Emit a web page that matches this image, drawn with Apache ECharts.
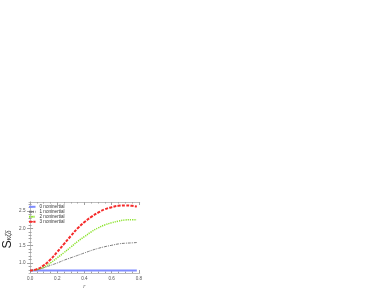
<!DOCTYPE html>
<html><head><meta charset="utf-8">
<script src="https://cdn.jsdelivr.net/npm/echarts@6/dist/echarts.min.js"></script>
<style>html,body{margin:0;padding:0;background:#fff}#c{width:382px;height:295px}</style>
</head><body><div id="c"></div>
<script>
var rValues = [0, 0.05, 0.1, 0.15, 0.2, 0.25, 0.3, 0.35, 0.4, 0.45, 0.5, 0.55, 0.6, 0.65, 0.7, 0.75, 0.785];
var s0 = [0.78, 0.78, 0.78, 0.78, 0.78, 0.78, 0.78, 0.78, 0.78, 0.78, 0.78, 0.78, 0.78, 0.78, 0.78, 0.78, 0.78];
var s1 = [0.78, 0.80, 0.86, 0.93, 1.00, 1.08, 1.15, 1.22, 1.29, 1.36, 1.42, 1.47, 1.51, 1.55, 1.57, 1.58, 1.59];
var s2 = [0.78, 0.81, 0.88, 1.00, 1.15, 1.30, 1.46, 1.62, 1.76, 1.90, 2.01, 2.10, 2.16, 2.21, 2.24, 2.25, 2.25];
var s3 = [0.78, 0.82, 0.93, 1.10, 1.32, 1.55, 1.78, 2.00, 2.18, 2.33, 2.45, 2.55, 2.61, 2.65, 2.66, 2.65, 2.63];
var seriesNames = ['0 noninertial', '1 noninertial', '2 noninertial', '3 noninertial'];
var xTicks = [0, 0.2, 0.4, 0.6, 0.8];
var yTicks = [1.0, 1.5, 2.0, 2.5];
var xMinor = [0.05,0.1,0.15,0.25,0.3,0.35,0.45,0.5,0.55,0.65,0.7,0.75];
var yMinor = [0.8,0.9,1.1,1.2,1.3,1.4,1.6,1.7,1.8,1.9,2.1,2.2,2.3,2.4,2.6,2.7];

function pairs(ys){ return rValues.map(function(r,i){ return [r, ys[i]]; }); }
var chart = echarts.init(document.getElementById('c'));
var X = {min:-0.008, max:0.806};
var Y = {min:0.71, max:2.76};
var fc = '#bdbdbd';
var lblFont = 'Liberation Sans';
function xa(pos, labels, ticks, len, show){
  return {type:'value', position:pos, min:X.min, max:X.max, splitLine:{show:false},
    axisLine:{show:show, lineStyle:{color:fc, width:1}},
    axisTick:{show:true, inside:true, length:len, customValues:ticks, lineStyle:{color:'#a0a0a0'}},
    axisLabel:{show:labels, customValues:ticks, fontSize:4.6, color:'#555', margin:3, fontFamily:lblFont,
      formatter:function(v){return v.toFixed(1);}}};
}
function ya(pos, labels, ticks, len, show){
  return {type:'value', position:pos, min:Y.min, max:Y.max, splitLine:{show:false},
    axisLine:{show:show, lineStyle:{color:fc, width:1}},
    axisTick:{show:true, inside:true, length:len, customValues:ticks, lineStyle:{color:'#a0a0a0'}},
    axisLabel:{show:labels, customValues:ticks, fontSize:4.6, color:'#555', margin:3.5, fontFamily:lblFont,
      formatter:function(v){return v.toFixed(1);}}};
}
var xAxes = [xa('bottom', true, xTicks, 3, true), xa('bottom', false, xMinor, 1.5, false),
             xa('top', false, xTicks, 3, true), xa('top', false, xMinor, 1.5, false)];
xAxes[0].name = 'r'; xAxes[0].nameLocation = 'middle'; xAxes[0].nameGap = 10.5;
xAxes[0].nameTextStyle = {fontSize:5.5, color:'#555', fontStyle:'italic', fontFamily:'Liberation Serif'};
var yAxes = [ya('left', true, yTicks, 3, true), ya('left', false, yMinor, 1.5, false),
             ya('right', false, yTicks, 3, true), ya('right', false, yMinor, 1.5, false)];
yAxes[0].name = '{s|S}{sub|κζδ}'; yAxes[0].nameLocation = 'middle'; yAxes[0].nameGap = 15; yAxes[0].nameRotate = 90;
yAxes[0].nameTextStyle = {padding:[0,4,0,0], rich:{
  s:{fontSize:12.5, color:'#222', fontFamily:'Liberation Sans'},
  sub:{fontSize:7.5, color:'#222', fontFamily:'Liberation Serif', fontStyle:'italic', padding:[4,0,0,0]}}};

var styles = [
  {color:'#7f8cff', width:2, type:'solid'},
  {color:'#7a7a7a', width:1, type:[3,1,1,1]},
  {color:'#8ae22a', width:1.5, type:[1.2,1]},
  {color:'#f52a2a', width:2, type:[3,1.3]}
];
var datas = [s0, s1, s2, s3];
var series = datas.map(function(d,i){
  return {name:seriesNames[i], type:'line', data:pairs(d), smooth:true, symbol:'none',
    xAxisIndex:0, yAxisIndex:0, lineStyle:styles[i], itemStyle:{color:styles[i].color}, z: (i===0?1:2+i), animation:false};
});
chart.setOption({
  animation:false,
  grid:{left:24.3, right:242.3, top:202, bottom:22, containLabel:false},
  legend:{orient:'vertical', left:28, top:204.3, padding:0, itemWidth:6.5, itemHeight:2, itemGap:0,
    textStyle:{fontSize:4.6, lineHeight:4.8, color:'#333', fontFamily:'Liberation Sans', padding:[0,0,0,-1]},
    data:seriesNames},
  xAxis:xAxes, yAxis:yAxes, series:series
});
</script></body></html>
